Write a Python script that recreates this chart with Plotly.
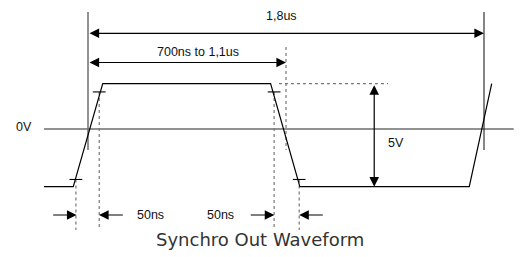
import plotly.graph_objects as go

# ---- data (time in ns, level in V) ----
HIGH = 2.2
LOW = -2.8
wave_t = [-200, -67, 67, 830, 963, 1733, 1835]
wave_v = [LOW, LOW, HIGH, HIGH, LOW, LOW, HIGH]

period_t = [0, 1800]          # 1,8us period markers
window_end = 900              # 700ns..1,1us window end
tick_t = [-55, 51, 846, 960]  # 10% / 90% crossing marks
tick_v = [-2.45, 1.8, 1.8, -2.45]
edge_arrows = [(-165, -52), (165, 50), (733, 847), (1074, 960)]  # (tail, head)
labels_text = ["1,8us", "700ns to 1,1us", "0V", "5V", "50ns", "50ns"]
labels_t = [880, 500, -291, 1398, 286, 600]
labels_v = [5.5, 3.72, 0.08, -0.67, -4.175, -4.175]
title = "Synchro Out Waveform"

# ---- layout scale ----
W, H = 520, 257
PX_PER_NS = 0.22
X0_PX = 88
PX_PER_V = 20.6
Y0_PX = 129
xr = [(0 - X0_PX) / PX_PER_NS, (W - X0_PX) / PX_PER_NS]
yr = [(Y0_PX - H) / PX_PER_V, Y0_PX / PX_PER_V]

fig = go.Figure()

def seg(x, y, color="#000", width=1.2, dash="solid"):
    fig.add_trace(go.Scatter(x=x, y=y, mode="lines", hoverinfo="skip",
                             line=dict(color=color, width=width, dash=dash),
                             showlegend=False))

# 0V reference line
seg([-200, 1935], [0, 0], color="#6e6e6e", width=1.5)
# period markers
seg([period_t[0]] * 2, [5.68, -1.02], color="#6e6e6e", width=1.5)
seg([period_t[1]] * 2, [5.68, -1.02], color="#222", width=1.1)
# dotted guides
seg([window_end] * 2, [3.98, -1.02], color="#777", width=1.2, dash="dot")
seg([868, 1364], [HIGH, HIGH], color="#777", width=1.2, dash="dot")
for t, v in zip(tick_t, tick_v):
    seg([t, t], [v, -4.9], color="#777", width=1.2, dash="dot")
# waveform
seg(wave_t, wave_v, color="#000", width=1.2)
# crossing tick marks
for t, v in zip(tick_t, tick_v):
    seg([t - 29, t + 29], [v, v], color="#000", width=1.1)

def arrow(xh, yh, xt, yt, both=False):
    fig.add_annotation(x=xh, y=yh, ax=xt, ay=yt, xref="x", yref="y",
                       axref="x", ayref="y", text="", showarrow=True,
                       arrowhead=2, arrowsize=1.6, arrowwidth=1.2,
                       arrowcolor="#000", standoff=0, startstandoff=0,
                       startarrowhead=2, startarrowsize=1.6,
                       arrowside="end+start" if both else "end")

arrow(period_t[1], 4.646, period_t[0], 4.646, both=True)
arrow(window_end, 3.228, period_t[0], 3.228, both=True)
arrow(1301, LOW, 1301, HIGH, both=True)
for tail, head in edge_arrows:
    arrow(head, -4.175, tail, -4.175)

for txt, t, v in zip(labels_text, labels_t, labels_v):
    fig.add_annotation(x=t, y=v, xref="x", yref="y", text=txt, showarrow=False,
                       font=dict(family="Liberation Sans, Arial", size=12.5, color="#111"))

fig.add_annotation(x=(260 - X0_PX) / PX_PER_NS, y=(Y0_PX - 239) / PX_PER_V,
                   xref="x", yref="y", text=title, showarrow=False,
                   font=dict(family="DejaVu Sans", size=18, color="#333"))

fig.update_layout(width=W, height=H, margin=dict(l=0, r=0, t=0, b=0),
                  plot_bgcolor="white", paper_bgcolor="white",
                  xaxis=dict(range=xr, visible=False, fixedrange=True),
                  yaxis=dict(range=yr, visible=False, fixedrange=True))

fig.write_html("out.html", config={"staticPlot": True},
               post_script="document.body.style.margin='0';document.body.style.overflow='hidden';")
